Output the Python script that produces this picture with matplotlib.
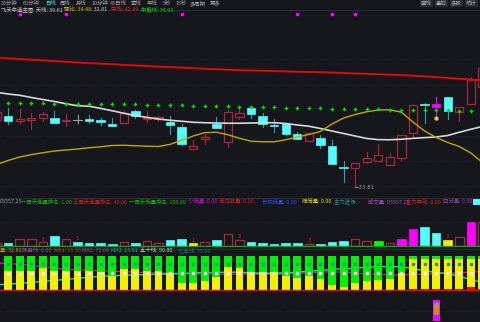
import matplotlib
matplotlib.use('Agg')
import matplotlib.pyplot as plt
from matplotlib.patches import Rectangle
from matplotlib.lines import Line2D

plt.rcParams['font.family'] = ['Noto Sans CJK SC', 'DejaVu Sans']

# ---------------- data ----------------
opens = [39.17, 39.51, 39.11, 39.19, 39.31, 39.31, 39.13, 39.21, 39.25, 39.15,
         38.87, 38.95, 39.89, 39.23, 39.25, 39.03, 38.61, 36.85, 37.65, 38.83,
         37.43, 39.43, 40.11, 39.47, 38.81, 38.83, 38.03, 37.51, 37.75, 37.11,
         35.43, 35.31, 35.83, 35.91, 35.57, 36.11, 38.11, 40.45, 40.43, 41.03,
         39.83, 40.45, 41.79]
highs = [39.90, 40.15, 40.05, 39.73, 39.83, 39.89, 39.65, 39.57, 39.57, 39.31,
         39.35, 39.91, 39.97, 39.89, 39.49, 39.47, 38.87, 37.57, 38.03, 39.41,
         39.95, 40.05, 40.11, 39.71, 39.25, 38.85, 38.23, 38.11, 37.97, 37.57,
         35.89, 35.71, 36.63, 37.25, 36.51, 37.97, 40.37, 40.51, 40.99, 41.03,
         40.23, 42.59, 43.50]
lows = [39.10, 38.85, 38.93, 38.45, 39.11, 38.95, 38.71, 38.95, 38.93, 38.77,
        38.69, 38.95, 39.31, 38.99, 39.09, 38.03, 37.17, 36.85, 37.27, 38.51,
        37.03, 39.25, 39.35, 38.63, 38.19, 37.97, 37.63, 37.51, 36.91, 35.63,
        34.23, 33.81, 35.75, 35.91, 35.57, 35.91, 37.83, 38.91, 39.49, 39.23,
        39.11, 40.45, 41.79]
closes = [39.81, 39.09, 39.25, 39.35, 39.63, 38.95, 39.21, 39.21, 39.11, 38.99,
          38.71, 39.73, 39.51, 39.35, 39.41, 38.79, 37.23, 37.09, 37.81, 38.51,
          39.83, 39.71, 39.65, 38.83, 38.73, 38.03, 37.63, 38.11, 37.17, 35.63,
          35.31, 35.71, 36.11, 36.37, 36.23, 37.97, 40.37, 40.37, 40.23, 39.89,
          40.23, 42.37, 43.31]
signal_candle = 38          # magenta candle
low_label = 33.81

mid_line = [44.15, 44.10, 44.05, 43.99, 43.94, 43.88, 43.83, 43.77, 43.72, 43.68,
            43.63, 43.58, 43.53, 43.49, 43.44, 43.40, 43.36, 43.31, 43.27, 43.23,
            43.19, 43.15, 43.13, 43.11, 43.08, 43.06, 43.03, 43.01, 42.99, 42.96,
            42.93, 42.89, 42.86, 42.83, 42.79, 42.76, 42.71, 42.66, 42.60, 42.53,
            42.47, 42.41, 42.35]
bull_bear = [41.39, 41.25, 41.15, 40.97, 40.81, 40.65, 40.47, 40.31, 40.27, 40.10,
             39.91, 39.71, 39.52, 39.38, 39.25, 39.15, 39.07, 38.99, 38.95, 38.93,
             38.91, 38.91, 38.93, 38.95, 38.95, 38.89, 38.77, 38.67, 38.49, 38.29,
             38.09, 37.89, 37.69, 37.60, 37.59, 37.63, 37.70, 37.76, 37.81, 37.93,
             38.19, 38.43, 38.65]
sky_line = [35.61, 35.93, 36.21, 36.40, 36.55, 36.69, 36.77, 36.85, 36.95, 37.03,
            37.13, 37.15, 37.11, 37.07, 37.05, 37.22, 37.55, 37.89, 38.16, 38.19,
            37.99, 37.71, 37.47, 37.43, 37.43, 37.59, 37.81, 38.01, 38.25, 38.85,
            39.33, 39.61, 39.83, 39.97, 39.99, 39.79, 39.01, 38.29, 37.77, 37.37,
            37.05, 36.53, 35.77]
dot_line = [40.51, 40.51, 40.51, 40.50, 40.50, 40.49, 40.48, 40.47, 40.46, 40.45,
            40.44, 40.43, 40.42, 40.40, 40.38, 40.36, 40.34, 40.32, 40.30, 40.28,
            40.26, 40.24, 40.22, 40.20, 40.18, 40.16, 40.14, 40.12, 40.10, 40.08,
            40.06, 40.04, 40.03, 40.02, 40.01, 40.00, 39.99, 39.97, 39.96, 39.94,
            39.92, 39.90, 39.89]
top_signals = [2, 6, 16, 26, 29, 31]
top_signal_level = 47.63

volume = [825, 825, 1675, 1675, 925, 2575, 1675, 1075, 825, 675,
          575, 925, 825, 1250, 825, 1500, 1675, 675, 1000, 1500,
          3000, 1500, 1000, 825, 575, 675, 825, 500, 575, 1000,
          1325, 1675, 1325, 1175, 750, 1675, 4325, 4675, 3325, 1500,
          2175, 6075, 6000]
vol_flag = ['u', 'd', 'u', 'u', 'u', 'd', 'u', 'd', 'd', 'd',
            'd', 'u', 'd', 'u', 'u', 'd', 'd', 'y', 'u', 'd',
            'u', 'u', 'd', 'd', 'd', 'd', 'd', 'u', 'd', 'd',
            'd', 'u', 'u', 'g', 'u', 'm', 'm', 'd', 'd', 'y',
            'u', 'm', 'u']
vol_mark_idx = [4, 7, 17, 21, 27, 39]
vol_mark_txt = ['1', '1', '1', '2', '3', '3']

yellow_part = [63.3, 56.3, 56.3, 56.3, 65.0, 56.3, 56.3, 56.3, 56.3, 52.5,
               40.8, 62.1, 62.1, 56.3, 56.3, 50.4, 21.3, 21.3, 26.2, 37.0,
               67.9, 63.3, 52.5, 53.4, 53.4, 40.8, 35.9, 40.8, 32.1, 14.6,
               9.6, 19.5, 26.2, 29.2, 32.1, 48.7, 91.3, 91.3, 91.3, 91.3,
               91.3, 91.3, 91.3]
red_part = [0, 0, 0, 0, 0, 0, 0, 0, 0, 0,
            0, 0, 0, 0, 0, 0, 0, 0, 0, 0,
            0, 0, 0, 0, 0, 0, 0, 0, 0, 0,
            0, 0, 0, 0, 0, 0, 4, 3, 3, 3,
            3, 10, 3]
ma_cyan = [15, 17, 19.5, 22, 25, 28, 31, 34, 37, 40,
           41.5, 43, 44, 45, 46, 47, 48.5, 50, 51, 51.5,
           52, 52, 50, 49, 49, 50, 52, 55, 57, 60,
           62, 64, 66, 68, 68, 68, 62, 56, 51, 48,
           40, 30, 22]
ma_magenta = [79, 77, 75, 72, 68, 64, 61, 59, 57.5, 56.5,
              55, 53.5, 52, 51, 50, 49, 48, 47, 46, 46,
              46, 46, 46, 46, 46, 47, 48.5, 50, 52, 53.5,
              52, 49, 47, 45.5, 44, 43.7, 45, 46.5, 47.5, 49,
              50.5, 52, 54]
line50 = 50
line75 = 75
bottom_signal_idx = 38
bottom_signal_range = (-90, -29)

# ---------------- style ----------------
W, H = 480, 322
BG = '#16161d'
CYAN = '#54fcfc'
CYAN_WICK = '#2f9fa5'
RED = '#a8283c'
FS = 3.9
N = len(opens)
XL, XR = 0.3, 41.79

fig = plt.figure(figsize=(W / 100, H / 100), dpi=100, facecolor=BG)


def fax(top_px, bot_px):
    return fig.add_axes([0, 1 - bot_px / H, 1, (bot_px - top_px) / H], facecolor=BG)


def clean(ax):
    for s in ax.spines.values():
        s.set_visible(False)
    ax.set_xticks([])
    ax.set_yticks([])
    ax.set_xlim(XL, XR)


def ftext(x, y, s, color, **kw):
    fig.text(x / W, 1 - y / H, s, color=color, fontsize=FS, va='center', ha='left', **kw)


# ---------- main price panel ----------
ax = fax(10, 197)
clean(ax)
ax.set_ylim(48.77 - 0.08 * 197, 48.77 - 0.08 * 10)
for gy in [44.03, 41.99, 39.96, 37.93, 35.90, 33.87]:
    ax.axhline(gy, color='#2a2a36', lw=0.6, ls=(0, (1, 3)), zorder=0)

bw = 0.72
for i in range(N):
    o, h, l, c = opens[i], highs[i], lows[i], closes[i]
    lo_b, hi_b = min(o, c), max(o, c)
    if hi_b - lo_b < 0.02:
        hi_b = lo_b + 0.02
    if i == signal_candle:
        col = '#ff00ff'
        ax.plot([i, i], [l, h], color=col, lw=0.8, zorder=2)
        ax.add_patch(Rectangle((i - bw / 2, lo_b), bw, hi_b - lo_b, facecolor=col, edgecolor=col, lw=0.6, zorder=3))
    elif o == c:
        ax.plot([i, i], [l, h], color='#a0a0a0', lw=0.8, zorder=2)
        ax.plot([i - bw / 2, i + bw / 2], [o, o], color='#a0a0a0', lw=0.8, zorder=3)
    elif c > o:
        ax.plot([i, i], [hi_b, h], color=RED, lw=0.8, zorder=2)
        ax.plot([i, i], [l, lo_b], color=RED, lw=0.8, zorder=2)
        ax.add_patch(Rectangle((i - bw / 2, lo_b), bw, hi_b - lo_b, facecolor='none', edgecolor=RED, lw=0.9, zorder=3))
    else:
        ax.plot([i, i], [l, h], color=CYAN_WICK, lw=0.8, zorder=2)
        ax.add_patch(Rectangle((i - bw / 2, lo_b), bw, hi_b - lo_b, facecolor=CYAN, edgecolor=CYAN, lw=0.5, zorder=3))

x = list(range(N))
ax.plot(x, mid_line, color='#e00a0a', lw=1.4, zorder=4)
ax.plot(x, bull_bear, color='#d8d8d8', lw=1.2, zorder=4)
ax.plot(x, sky_line, color='#c0a800', lw=1.0, zorder=4)
ax.plot(x, dot_line, ls='none', marker='P', ms=2.4, color='#00e000', mec='#00e000', mew=0.2, zorder=5)
ax.plot(top_signals, [top_signal_level] * len(top_signals), ls='none', marker='s', ms=1.6, color='#ff00ff', zorder=5)
ax.plot([signal_candle], [39.31], ls='none', marker='o', ms=3.2, color='#e8c060', mec='#806020', mew=0.5, zorder=5)
ax.text(lows.index(low_label) - 0.05, low_label - 0.05, '←' + f'{low_label:.2f}', color='#a0a0a0',
        fontsize=FS, va='center', ha='left', family=['DejaVu Sans'], zorder=6)

# ---------- volume panel ----------
av = fax(199, 247)
clean(av)
av.set_ylim(-250, 11750)
av.axhline(6075, color='#2a2a36', lw=0.6, ls=(0, (1, 3)), zorder=0)
vbw = 0.74
fill_col = {'d': CYAN, 'y': '#f0f000', 'g': '#00ff00', 'm': '#ff00ff'}
for i in range(N):
    f = vol_flag[i]
    if f == 'u':
        av.add_patch(Rectangle((i - vbw / 2, 0), vbw, volume[i], facecolor='none', edgecolor=RED, lw=0.9, zorder=3))
    else:
        av.add_patch(Rectangle((i - vbw / 2, 0), vbw, volume[i], facecolor=fill_col[f], edgecolor=fill_col[f], lw=0.5, zorder=3))
for k, t in zip(vol_mark_idx, vol_mark_txt):
    av.text(k, volume[k] + 150, t, color='#e02020', fontsize=FS, ha='center', va='bottom', family=['DejaVu Sans'])
av.axhline(0, color='#00b000', lw=1.0, zorder=4)

# ---------- indicator panel ----------
ai = fax(253, 322)
clean(ai)
ai.set_ylim(-93.3, 107.9)
ai.axhline(-60.3, color='#2a2a36', lw=0.6, ls=(0, (1, 3)), zorder=0)
ibw = 0.68
for i in range(N):
    ai.add_patch(Rectangle((i - ibw / 2, 0), ibw, 100, facecolor='#00f000', edgecolor='none', zorder=2))
    ai.add_patch(Rectangle((i - ibw / 2, 0), ibw, yellow_part[i], facecolor='#f0f000', edgecolor='none', zorder=3))
    if red_part[i] > 0:
        ai.add_patch(Rectangle((i - ibw / 2, 0), ibw, red_part[i], facecolor='#ff0000', edgecolor='none', zorder=3))
ai.plot(x, ma_magenta, color='#e000e0', lw=1.0, zorder=1.5)
ai.plot(x, ma_cyan, color='#10d8d8', lw=1.0, zorder=1.6)
ai.plot(x, [line75] * N, ls='none', marker='s', ms=1.8, color='#1a9a9a', zorder=5)
ai.plot(x, [line50] * N, ls='none', marker='s', ms=1.8, color='#ffffff', zorder=5)
ai.axhline(0, color='#e01010', lw=1.0, zorder=4)
lo, hi = bottom_signal_range
ai.add_patch(Rectangle((bottom_signal_idx - 0.3, lo), 0.6, hi - lo, facecolor='#ff00ff', edgecolor='none', zorder=3))
ai.plot([bottom_signal_idx] * 3, [lo + 25, lo + 35, lo + 45], ls='none', marker='s', ms=2.2,
        color='#20c0c0', zorder=4)
ai.plot([bottom_signal_idx] * 2, [lo + 30, lo + 40], ls='none', marker='s', ms=2.2, color='#e08020', zorder=4)

# ---------- separators ----------
for yy, cc in [(9.5, '#2a2a33'), (197.5, '#2c2c36'), (248.5, '#2c2c36')]:
    fig.add_artist(Line2D([0, 1], [1 - yy / H, 1 - yy / H], color=cc, lw=0.8))

# ---------- toolbar ----------
tb = [(1, '30分钟'), (23, '60分钟'), (45, '日线'), (60, '周线'), (76, '月线'), (92, '10分钟'),
      (110, '45日线'), (131, '季线'), (147, '年线'), (163, '5秒'), (176, '15秒'), (190, '多周期'), (210, '更多')]
for xx, s in tb:
    ftext(xx, 3.5, s, '#40e0e0' if s == '日线' else '#a8a8a8')
for xx, s in [(421, '画线'), (436, '叠加'), (451, '多股'), (466, '统计')]:
    ftext(xx, 3.5, s, '#b0b0b0', bbox=dict(boxstyle='square,pad=0.15', fc='#2a2a33', ec='none'))

# ---------- headers ----------
ftext(1, 9.8, '飞天牛选主图  天线: 39.61', '#d0d0d0')
ftext(64, 9.8, '强比: 34.48', '#d0c000')
ftext(91, 9.8, ': 32.81', '#d0d0d0')
ftext(111, 9.8, '中线: 42.49', '#ff2020')
ftext(141, 9.8, '牛熊线: 39.93', '#00e000')

vh = [(0, '05557.25', '#a0a0a0'), (21, '一百天高量排名: 1.00', '#10c010'),
      (73, '三百天高量排名: 40.00', '#e02020'), (129, '一百天低量排名: 100.00', '#10c010'),
      (188, '小倍量: 0.00', '#e000e0'), (219, '高位放量: 0.00', '#e02020'),
      (262, '长阴低量: 0.00', '#3050ff'), (302, '缩倍量: 0.00', '#e0e000'),
      (334, '主力进场: -', '#1a9a8a'), (368, '成交量: 05557.25', '#a050c0'),
      (406, '主力异动: 0.00', '#e02020'), (443, '四分量: 0.00', '#9040b0')]
for xx, s, c in vh:
    ftext(xx, 201.5, s, c)
fig.add_artist(Rectangle((473 / W, 1 - 205 / H), 7 / W, 7 / H, facecolor=CYAN, edgecolor='none', transform=fig.transFigure))

ih = [(0, '量: 32.81', '#c8a000'), (22, '操盘线: 0.00', '#a040a0'), (54, 'MA1: 11.50', '#d03030'),
      (82, 'MA2: 72.69', '#b040b0'), (111, 'MA3: 15.61', '#20b0b0'), (140, '五十线: 50.00', '#d0d0d0'),
      (178, '七五线: 75.00', '#208080')]
for xx, s, c in ih:
    ftext(xx, 250.7, s, c)

fig.savefig('out.png', dpi=100, facecolor=BG)
